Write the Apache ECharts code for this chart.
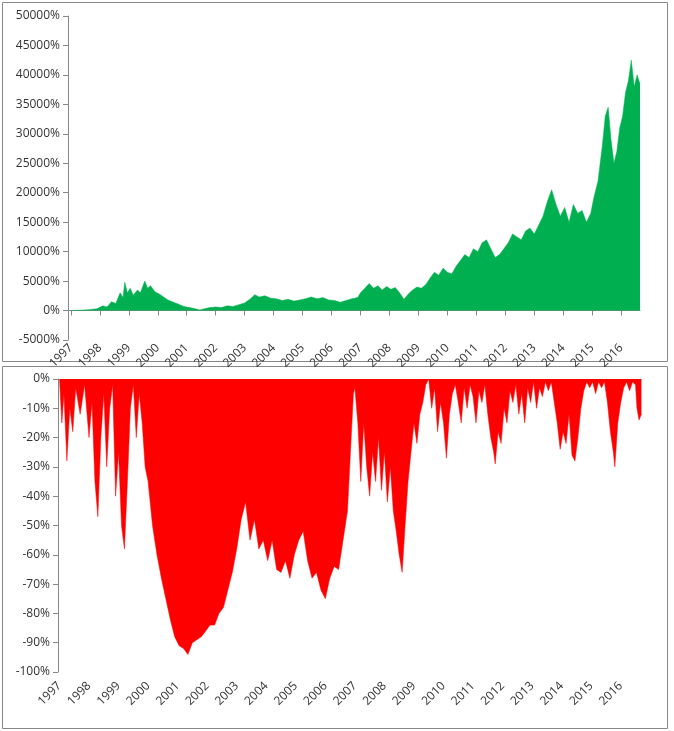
<!DOCTYPE html>
<html><head><meta charset="utf-8">
<script src="https://cdn.jsdelivr.net/npm/echarts@6/dist/echarts.min.js"></script>
<style>html,body{margin:0;padding:0;background:#fff}#c{width:674px;height:731px}</style>
</head><body><div id="c"></div>
<script>
const years = [1997,1998,1999,2000,2001,2002,2003,2004,2005,2006,2007,2008,2009,2010,2011,2012,2013,2014,2015,2016];
const eqDates = [1997.0,1997.3,1997.6,1997.9,1998.1,1998.25,1998.4,1998.55,1998.7,1998.8,1998.86,1998.95,1999.05,1999.15,1999.3,1999.4,1999.55,1999.65,1999.75,1999.9,2000.05,2000.2,2000.35,2000.5,2000.7,2000.9,2001.1,2001.3,2001.45,2001.6,2001.8,2002.0,2002.2,2002.4,2002.6,2002.8,2003.0,2003.2,2003.35,2003.5,2003.7,2003.9,2004.1,2004.3,2004.5,2004.7,2004.9,2005.1,2005.3,2005.5,2005.7,2005.9,2006.1,2006.3,2006.5,2006.7,2006.9,2007.0,2007.15,2007.3,2007.45,2007.6,2007.75,2007.9,2008.05,2008.2,2008.35,2008.5,2008.65,2008.8,2008.95,2009.1,2009.25,2009.4,2009.55,2009.7,2009.85,2010.0,2010.15,2010.3,2010.45,2010.6,2010.75,2010.9,2011.05,2011.2,2011.35,2011.5,2011.65,2011.8,2011.95,2012.1,2012.25,2012.4,2012.55,2012.7,2012.85,2013.0,2013.15,2013.3,2013.45,2013.6,2013.75,2013.9,2014.05,2014.2,2014.35,2014.5,2014.65,2014.8,2014.95,2015.05,2015.2,2015.35,2015.45,2015.55,2015.65,2015.75,2015.85,2015.95,2016.05,2016.15,2016.25,2016.35,2016.45,2016.55,2016.65];
const eqValues = [0,50,150,300,800,600,1500,1200,3000,2200,4800,3000,3800,2600,3500,3000,5000,3800,4200,3200,2800,2300,1800,1500,1100,700,500,300,100,300,500,600,500,800,700,1000,1300,2000,2700,2300,2500,2100,2000,1700,1900,1600,1800,2000,2300,2000,2200,1800,1700,1400,1700,2000,2200,3000,3800,4600,3800,4200,3500,4100,3600,3900,3000,1900,2800,3500,4000,3800,4400,5500,6500,6000,7200,6500,6200,7500,8500,9500,9000,10500,10000,11500,12000,10500,9000,9500,10500,11500,13000,12500,12000,13500,14000,13000,14500,16000,18500,20500,18000,16000,17500,15000,18000,16500,17000,15000,16500,19000,22000,28000,33000,34500,29000,25000,27000,31000,33000,37000,39000,42500,38000,40000,38500];
const ddDates = [1997.0,1997.08,1997.15,1997.25,1997.35,1997.45,1997.55,1997.7,1997.85,1998.0,1998.1,1998.2,1998.3,1998.4,1998.5,1998.6,1998.7,1998.8,1998.9,1999.0,1999.1,1999.2,1999.3,1999.4,1999.5,1999.6,1999.7,1999.8,1999.9,2000.0,2000.15,2000.3,2000.45,2000.6,2000.75,2000.9,2001.05,2001.2,2001.35,2001.5,2001.65,2001.8,2001.95,2002.1,2002.25,2002.4,2002.55,2002.7,2002.85,2003.0,2003.15,2003.3,2003.45,2003.6,2003.75,2003.9,2004.05,2004.2,2004.35,2004.5,2004.65,2004.8,2004.95,2005.1,2005.25,2005.4,2005.55,2005.7,2005.85,2006.0,2006.15,2006.3,2006.45,2006.6,2006.75,2006.85,2006.95,2007.0,2007.1,2007.2,2007.3,2007.4,2007.5,2007.6,2007.7,2007.8,2007.9,2008.0,2008.1,2008.2,2008.3,2008.4,2008.5,2008.6,2008.7,2008.8,2008.9,2009.0,2009.1,2009.2,2009.3,2009.4,2009.5,2009.6,2009.7,2009.8,2009.9,2010.0,2010.1,2010.2,2010.3,2010.4,2010.5,2010.6,2010.7,2010.8,2010.9,2011.0,2011.1,2011.2,2011.3,2011.4,2011.5,2011.6,2011.7,2011.75,2011.85,2011.95,2012.05,2012.15,2012.25,2012.35,2012.45,2012.55,2012.65,2012.75,2012.85,2012.95,2013.05,2013.15,2013.25,2013.35,2013.45,2013.55,2013.65,2013.75,2013.85,2013.95,2014.05,2014.15,2014.25,2014.35,2014.45,2014.55,2014.65,2014.75,2014.85,2014.95,2015.05,2015.15,2015.25,2015.35,2015.45,2015.55,2015.65,2015.75,2015.8,2015.9,2016.0,2016.1,2016.2,2016.3,2016.4,2016.5,2016.55,2016.62,2016.7];
const ddValues = [0,-15,-5,-28,-10,-18,-3,-12,-2,-20,-8,-35,-47,-20,-5,-30,-10,-2,-40,-25,-50,-58,-35,-10,-2,-20,-5,-15,-30,-35,-50,-60,-68,-75,-82,-88,-91,-92,-94,-90,-89,-88,-86,-84,-84,-80,-78,-72,-66,-58,-48,-42,-55,-48,-58,-55,-62,-55,-65,-66,-62,-68,-60,-55,-52,-62,-68,-66,-72,-75,-68,-64,-65,-55,-45,-25,-5,-3,-15,-35,-15,-30,-40,-25,-35,-20,-38,-25,-42,-30,-45,-52,-60,-66,-50,-35,-25,-15,-22,-12,-8,-2,0,-10,-3,-18,-8,-15,-27,-12,-5,-2,-8,-15,-3,-10,-2,-6,-15,-4,-8,-2,-12,-20,-25,-29,-18,-22,-10,-15,-4,-8,-2,-12,-5,-15,-3,-8,-1,-10,-3,-6,-1,-4,-1,-8,-15,-24,-18,-22,-12,-26,-28,-20,-10,-4,-1,-3,-1,-5,-1,-3,-1,-8,-18,-25,-30,-15,-8,-3,-1,-4,-1,-2,-10,-14,-12];

const font = {fontFamily:'Open Sans, Liberation Sans, sans-serif', fontSize:12, color:'#333'};
const axLine = {show:true, lineStyle:{color:'#888'}};
const chart = echarts.init(document.getElementById('c'));
chart.setOption({
  animation:false,
  graphic:[
    {type:'rect', shape:{x:2.5,y:2.5,width:665,height:359}, style:{fill:'none',stroke:'#888',lineWidth:1}},
    {type:'rect', shape:{x:2.5,y:366.5,width:665,height:362}, style:{fill:'none',stroke:'#888',lineWidth:1}}
  ],
  grid:[
    {left:68, right:34, top:16, bottom:391},
    {left:58, right:32, top:379, bottom:59}
  ],
  xAxis:[
    {type:'value', gridIndex:0, min:1996.9, max:2016.65, splitLine:{show:false},
     axisLine:Object.assign({onZero:true},axLine),
     axisTick:{show:true, customValues:years, length:5, lineStyle:{color:'#888'}},
     axisLabel:Object.assign({customValues:years, rotate:45, margin:6, formatter:v=>String(v)},font)},
    {type:'value', gridIndex:1, min:1996.95, max:2016.72, splitLine:{show:false},
     position:'bottom', axisLine:{show:false, onZero:false}, axisTick:{show:false},
     axisLabel:Object.assign({customValues:years, rotate:45, margin:12, formatter:v=>String(v)},font)}
  ],
  yAxis:[
    {type:'value', gridIndex:0, min:-5000, max:50000, interval:5000, splitLine:{show:false},
     axisLine:axLine, axisTick:{show:true, lineStyle:{color:'#888'}},
     axisLabel:Object.assign({formatter:v=>v+'%'},font)},
    {type:'value', gridIndex:1, min:-100, max:0, interval:10, splitLine:{show:false},
     axisLine:axLine, axisTick:{show:true, lineStyle:{color:'#888'}},
     axisLabel:Object.assign({formatter:v=>v+'%'},font)}
  ],
  series:[
    {type:'line', xAxisIndex:0, yAxisIndex:0, showSymbol:false, lineStyle:{width:0.5,color:'#00B050'},
     areaStyle:{color:'#00B050', opacity:1}, data:eqDates.map((d,i)=>[d,eqValues[i]])},
    {type:'line', xAxisIndex:1, yAxisIndex:1, showSymbol:false, lineStyle:{width:0.5,color:'#FF0000'},
     areaStyle:{color:'#FF0000', opacity:1, origin:'end'}, data:ddDates.map((d,i)=>[d,ddValues[i]])}
  ]
});
</script></body></html>
